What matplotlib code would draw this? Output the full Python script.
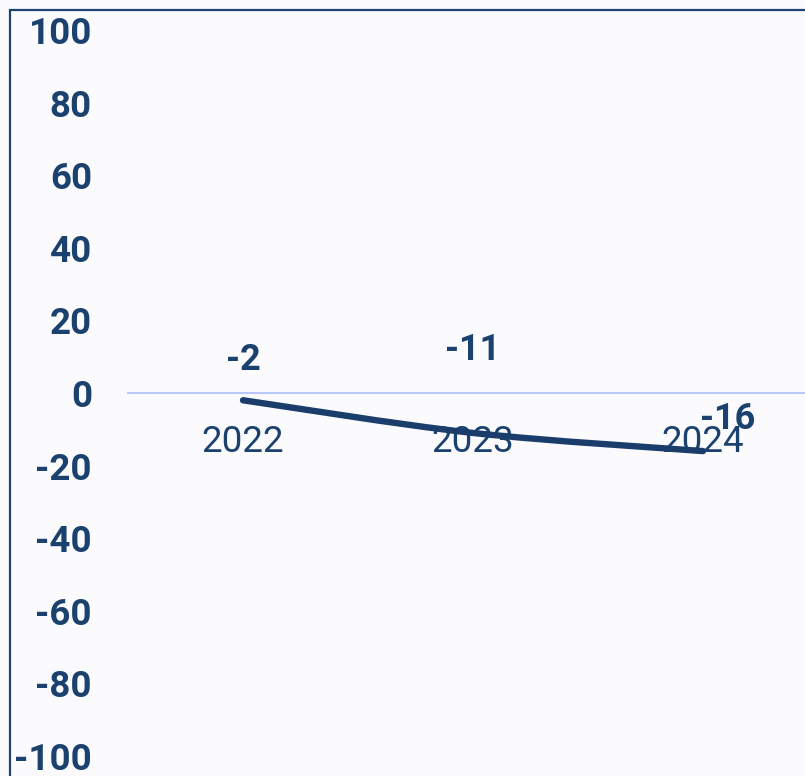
import matplotlib
matplotlib.use("Agg")
import matplotlib.pyplot as plt
import numpy as np
from matplotlib.path import Path
from matplotlib.patches import PathPatch, Rectangle

years = ["2022", "2023", "2024"]
values = [-2, -11, -16]
yticks = [100, 80, 60, 40, 20, 0, -20, -40, -60, -80, -100]
# label offsets in pixels (dx, dy) relative to each point
label_offsets = [(0, 40), (0, 83), (25, 32)]

NAVY = "#1b416f"
LINE = "#1a3d6b"
ZERO = "#b9c8fb"
BG = "#fbfbfe"

plt.rcParams["font.family"] = ["Roboto", "DejaVu Sans"]

W, H = 805, 776
fig = plt.figure(figsize=(W / 100, H / 100), dpi=100, facecolor=BG)
ax = fig.add_axes([128 / W, (H - 756) / H, 690 / W, 726 / H])
ax.set_facecolor(BG)
ax.patch.set_alpha(0)

# outer frame
fig.patches.append(Rectangle((10 / W, -0.1), 1.2, 1.1 - 10 / H, transform=fig.transFigure,
                             fill=False, edgecolor=NAVY, linewidth=1.6))

# zero line via bottom spine (set before ticks, since it resets them)
for s in ["top", "right", "left"]:
    ax.spines[s].set_visible(False)
ax.spines["bottom"].set_position(("data", 0))
ax.spines["bottom"].set_color(ZERO)
ax.spines["bottom"].set_linewidth(1.5)
ax.spines["bottom"].set_zorder(1)

x = np.arange(len(values))

# smooth curve through the points (cubic Bezier segments)
pts = np.column_stack([x, values]).astype(float)
verts = [tuple(pts[0])]
codes = [Path.MOVETO]
t = 0.5
for i in range(len(pts) - 1):
    p0 = pts[i - 1] if i > 0 else pts[i]
    p1, p2 = pts[i], pts[i + 1]
    p3 = pts[i + 2] if i + 2 < len(pts) else pts[i + 1]
    c1 = p1 + (p2 - p0) * t / 3
    c2 = p2 - (p3 - p1) * t / 3
    verts += [tuple(c1), tuple(c2), tuple(p2)]
    codes += [Path.CURVE4] * 3
ax.add_patch(PathPatch(Path(verts, codes), fill=False, edgecolor=LINE,
                       linewidth=4.6, capstyle="round", zorder=3))

for xi, v, (dx, dy) in zip(x, values, label_offsets):
    ax.annotate(f"{v}", (xi, v), xytext=(dx, dy), textcoords="offset pixels",
                ha="center", va="center", fontsize=26, fontweight="bold",
                color=NAVY, zorder=4)

ax.set_xlim(-0.5, 2.5)
ax.set_ylim(-100, 100)
ax.set_yticks(yticks)
ax.set_yticklabels([str(v) for v in yticks], fontsize=26.5, fontweight="bold", color=NAVY)
ax.set_xticks(x)
ax.set_xticklabels(years, fontsize=26.5, color=NAVY)
ax.tick_params(axis="y", length=0, pad=26)
ax.tick_params(axis="x", length=0, pad=22)

fig.savefig("out.png", dpi=100, facecolor=BG)
